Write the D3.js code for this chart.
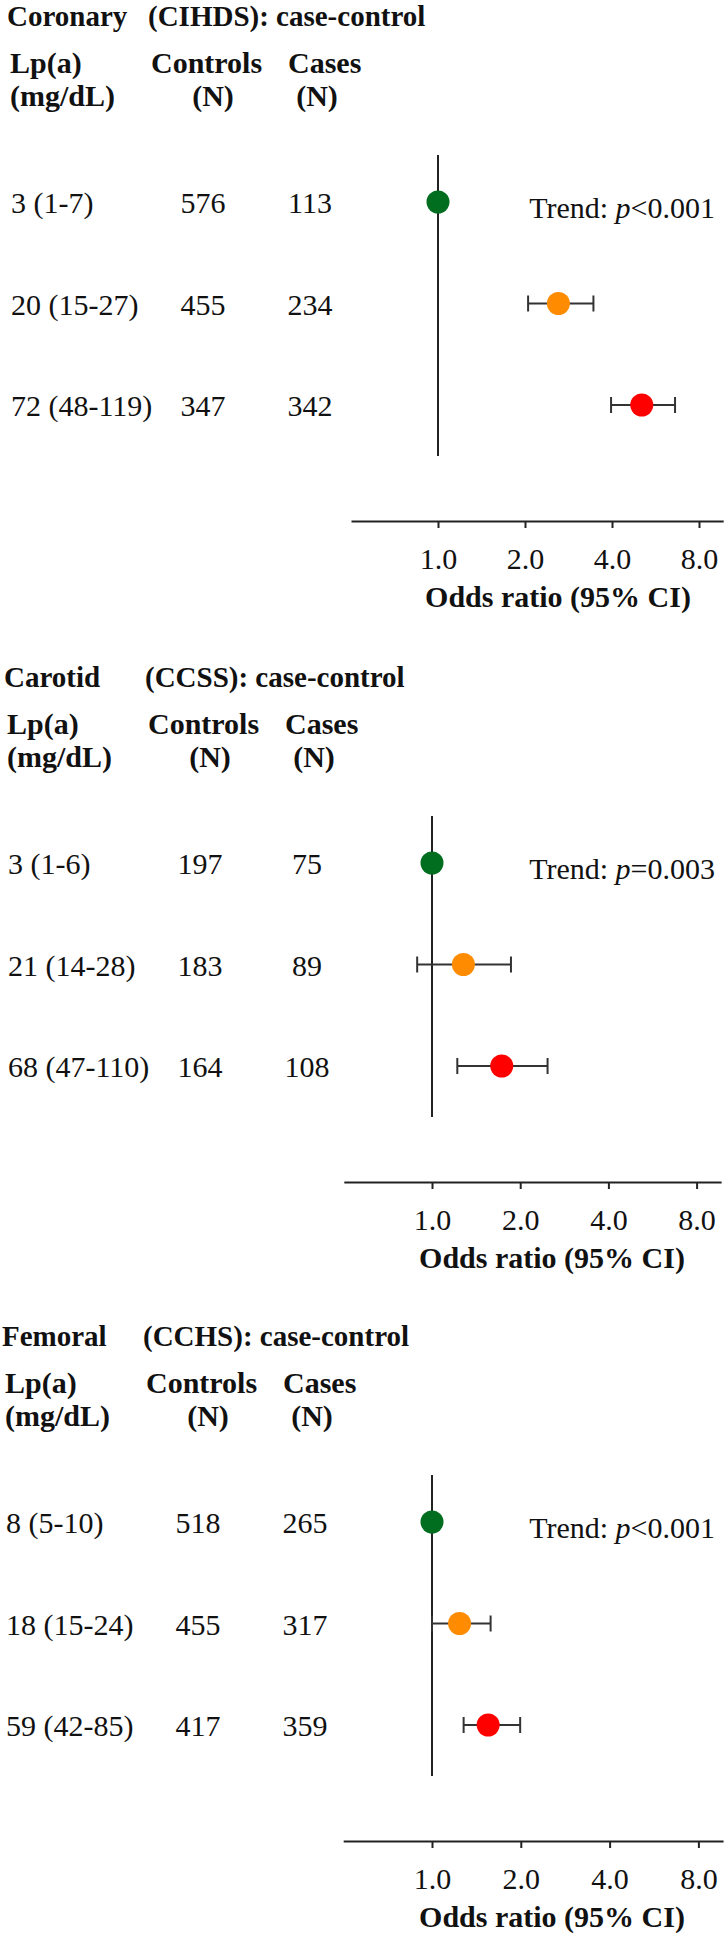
<!DOCTYPE html>
<html>
<head>
<meta charset="utf-8">
<script src="https://cdn.jsdelivr.net/npm/d3@7/dist/d3.min.js"></script>
<style>
  html, body { margin: 0; padding: 0; background: #fff; }
  svg { display: block; }
  text { font-family: "Liberation Serif", "Times New Roman", Times, serif; fill: #111; }
</style>
</head>
<body>
<svg id="chart" width="726" height="1945"></svg>
<script>
// ---------- data ----------
const panelNames   = ["Coronary", "Carotid", "Femoral"];
const panelStudies = ["(CIHDS): case-control", "(CCSS): case-control", "(CCHS): case-control"];
const lpaLabels = [
  ["3 (1-7)", "20 (15-27)", "72 (48-119)"],
  ["3 (1-6)", "21 (14-28)", "68 (47-110)"],
  ["8 (5-10)", "18 (15-24)", "59 (42-85)"]
];
const controlsN = [[576, 455, 347], [197, 183, 164], [518, 455, 417]];
const casesN    = [[113, 234, 342], [75, 89, 108],   [265, 317, 359]];
const oddsRatio = [[1.0, 2.61, 5.07], [1.0, 1.28, 1.73], [1.0, 1.24, 1.55]];
const ciLow     = [[null, 2.05, 3.97], [null, 0.89, 1.22], [null, 1.0, 1.28]];
const ciHigh    = [[null, 3.45, 6.61], [null, 1.86, 2.48], [null, 1.58, 1.99]];
const trendOp   = ["<", "=", "<"];
const trendP    = ["0.001", "0.003", "0.001"];
const tickValues = [1, 2, 4, 8];
const tickLabels = ["1.0", "2.0", "4.0", "8.0"];
const colHeaders = ["Lp(a)", "Controls", "Cases"];
const colSubHeaders = ["(mg/dL)", "(N)", "(N)"];
const axisTitle = "Odds ratio (95% CI)";

// ---------- layout / style ----------
const groupColors = ["#006e1e", "#ff8c00", "#ff0000"];
const panelY  = [0, 661, 1320];     // vertical offset of each panel
const textDX  = [0, -3, -5];        // horizontal shift of text columns
const refX    = [438, 432, 432];    // pixel position of OR = 1.0
const perDoubling = [87, 88.2, 88.8];
const FS = 30;

const svg = d3.select("#chart");

panelNames.forEach((name, p) => {
  const g = svg.append("g").attr("transform", `translate(0,${panelY[p]})`);
  const dx = textDX[p];

  // scales
  const x0 = refX[p] - perDoubling[p];
  const x = d3.scaleLog().base(2)
    .domain([0.5, 9.7])
    .range([x0, x0 + perDoubling[p] * Math.log2(9.7 / 0.5)]);
  const y = d3.scalePoint().domain([0, 1, 2]).range([202, 405]);

  // title
  g.append("text").attr("x", 7 + dx).attr("y", 26)
    .attr("font-size", 29).attr("font-weight", "bold").text(name);
  g.append("text").attr("x", 148 + dx).attr("y", 26)
    .attr("font-size", 29).attr("font-weight", "bold").text(panelStudies[p]);

  // column headers
  g.append("text").attr("x", 10 + dx).attr("y", 73)
    .attr("font-size", FS).attr("font-weight", "bold").text(colHeaders[0]);
  g.append("text").attr("x", 10 + dx).attr("y", 106)
    .attr("font-size", FS).attr("font-weight", "bold").text(colSubHeaders[0]);
  g.append("text").attr("x", 151 + dx).attr("y", 73)
    .attr("font-size", FS).attr("font-weight", "bold").text(colHeaders[1]);
  g.append("text").attr("x", 213 + dx).attr("y", 106).attr("text-anchor", "middle")
    .attr("font-size", FS).attr("font-weight", "bold").text(colSubHeaders[1]);
  g.append("text").attr("x", 288 + dx).attr("y", 73)
    .attr("font-size", FS).attr("font-weight", "bold").text(colHeaders[2]);
  g.append("text").attr("x", 317 + dx).attr("y", 106).attr("text-anchor", "middle")
    .attr("font-size", FS).attr("font-weight", "bold").text(colSubHeaders[2]);

  // rows
  const rows = [0, 1, 2];
  g.selectAll(".lbl").data(rows).join("text")
    .attr("x", 11 + dx).attr("y", i => y(i) + 11)
    .attr("font-size", FS).text(i => lpaLabels[p][i]);
  g.selectAll(".ctl").data(rows).join("text")
    .attr("x", 203 + dx).attr("y", i => y(i) + 11).attr("text-anchor", "middle")
    .attr("font-size", FS).text(i => controlsN[p][i]);
  g.selectAll(".cas").data(rows).join("text")
    .attr("x", 310 + dx).attr("y", i => y(i) + 11).attr("text-anchor", "middle")
    .attr("font-size", FS).text(i => casesN[p][i]);

  // reference line at OR = 1
  g.append("line")
    .attr("x1", x(1)).attr("x2", x(1))
    .attr("y1", y(0) - 47).attr("y2", y(2) + 51)
    .attr("stroke", "#222").attr("stroke-width", 2);

  // confidence intervals
  const ciRows = rows.filter(i => ciLow[p][i] != null);
  const ci = g.selectAll(".ci").data(ciRows).join("g");
  ci.append("line")
    .attr("x1", i => x(ciLow[p][i])).attr("x2", i => x(ciHigh[p][i]))
    .attr("y1", i => y(i)).attr("y2", i => y(i))
    .attr("stroke", "#333").attr("stroke-width", 2);
  ci.append("line")
    .attr("x1", i => x(ciLow[p][i])).attr("x2", i => x(ciLow[p][i]))
    .attr("y1", i => y(i) - 8).attr("y2", i => y(i) + 8)
    .attr("stroke", "#333").attr("stroke-width", 2);
  ci.append("line")
    .attr("x1", i => x(ciHigh[p][i])).attr("x2", i => x(ciHigh[p][i]))
    .attr("y1", i => y(i) - 8).attr("y2", i => y(i) + 8)
    .attr("stroke", "#333").attr("stroke-width", 2);

  // points
  g.selectAll(".pt").data(rows).join("circle")
    .attr("cx", i => x(oddsRatio[p][i])).attr("cy", i => y(i))
    .attr("r", 11.5).attr("fill", i => groupColors[i]);

  // trend text
  const tr = g.append("text").attr("x", 715).attr("y", 218)
    .attr("text-anchor", "end").attr("font-size", FS);
  tr.append("tspan").text("Trend: ");
  tr.append("tspan").attr("font-style", "italic").text("p");
  tr.append("tspan").text(trendOp[p] + trendP[p]);

  // x axis
  const axis = d3.axisBottom(x)
    .tickValues(tickValues)
    .tickFormat((d, i) => tickLabels[i])
    .tickSize(7).tickSizeOuter(0).tickPadding(20);
  const ax = g.append("g").attr("transform", "translate(0,521)").call(axis);
  ax.select(".domain").attr("stroke", "#222").attr("stroke-width", 2);
  ax.selectAll(".tick line").attr("stroke", "#222").attr("stroke-width", 2);
  ax.selectAll(".tick text")
    .attr("font-size", FS)
    .attr("font-family", '"Liberation Serif", "Times New Roman", Times, serif')
    .attr("fill", "#111");

  g.append("text").attr("x", x(1) + 120).attr("y", 607)
    .attr("text-anchor", "middle").attr("font-size", FS).attr("font-weight", "bold")
    .text(axisTitle);
});
</script>
</body>
</html>
